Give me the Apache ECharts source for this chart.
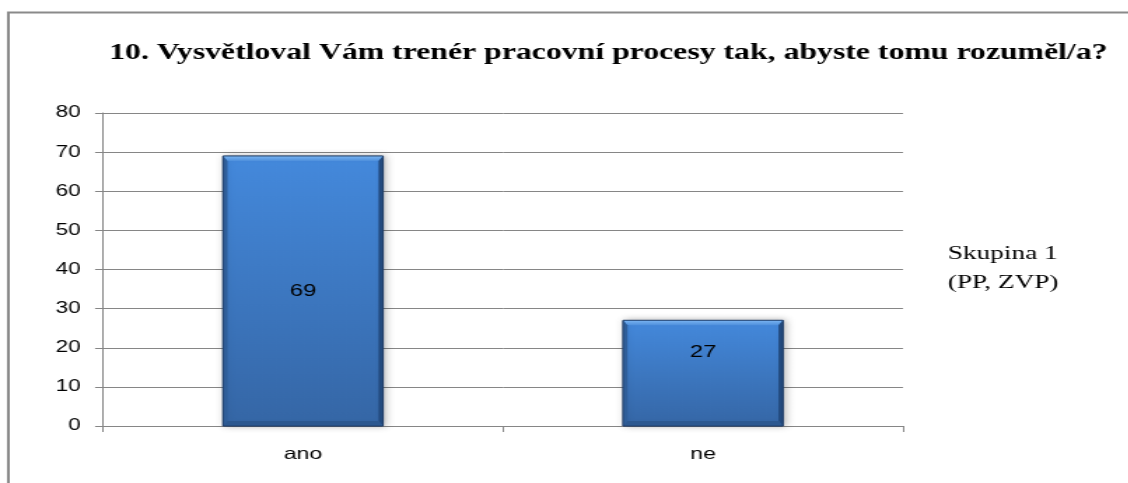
<!DOCTYPE html>
<html>
<head>
<meta charset="utf-8">
<script src="https://cdn.jsdelivr.net/npm/echarts@6/dist/echarts.min.js"></script>
<style>
  html, body { margin: 0; padding: 0; background: #fff; overflow: hidden; }
  #wrap { width: 1128px; height: 483px; overflow: hidden; }
  /* the chart is laid out narrow and widened horizontally */
  #chart { width: 806px; height: 483px; transform: scaleX(1.4); transform-origin: 0 0; }
</style>
</head>
<body>
<div id="wrap"><div id="chart"></div></div>
<script>
const titleText = '10. Vysvětloval Vám trenér pracovní procesy tak, abyste tomu rozuměl/a?';
const seriesName = 'Skupina 1\n(PP, ZVP)';
const categories = ['ano', 'ne'];
const values = [69, 27];
const yMin = 0;
const yMax = 80;
const yStep = 10;

// where each value label sits inside its bar (fraction of bar height from the top)
const labelAnchor = [0.5, 0.3];

const AXIS_GREY = '#868686';

function renderBar(params, api) {
  const idx = api.value(0);
  const v = api.value(1);
  const top = api.coord([idx, v]);
  const base = api.coord([idx, 0]);
  const w = api.size([1, 0])[0] * 0.4;
  const x0 = top[0] - w / 2, x1 = top[0] + w / 2;
  const y0 = top[1], y1 = base[1];
  const bx = 3.2, by = 5;
  const face = new echarts.graphic.LinearGradient(0, 0, 0, 1, [
    { offset: 0, color: '#4489dc' },
    { offset: 1, color: '#3566a5' }
  ]);
  const topFace = new echarts.graphic.LinearGradient(0, 0, 0, 1, [
    { offset: 0, color: '#7ab5f2' },
    { offset: 1, color: '#4e8fdc' }
  ]);
  return {
    type: 'group',
    children: [
      { type: 'rect', shape: { x: x0, y: y0, width: w, height: y1 - y0 },
        style: { fill: face, stroke: '#1e3b64', lineWidth: 0.8,
                 shadowBlur: 6, shadowColor: 'rgba(0,0,0,0.28)', shadowOffsetX: 1.5, shadowOffsetY: 0 } },
      { type: 'polygon', shape: { points: [[x0, y0], [x1, y0], [x1 - bx, y0 + by], [x0 + bx, y0 + by]] },
        style: { fill: topFace } },
      { type: 'polygon', shape: { points: [[x0, y0], [x0 + bx, y0 + by], [x0 + bx, y1 - by], [x0, y1]] },
        style: { fill: '#2f5e99' } },
      { type: 'polygon', shape: { points: [[x1, y0], [x1 - bx, y0 + by], [x1 - bx, y1 - by], [x1, y1]] },
        style: { fill: '#234a7e' } },
      { type: 'polygon', shape: { points: [[x0, y1], [x0 + bx, y1 - by], [x1 - bx, y1 - by], [x1, y1]] },
        style: { fill: '#2c5890' } },
      { type: 'rect', shape: { x: x0, y: y0, width: w, height: y1 - y0 },
        style: { fill: 'none', stroke: '#1e3b64', lineWidth: 0.8 } },
      { type: 'text', x: top[0], y: y0 + (y1 - y0) * labelAnchor[idx],
        style: { text: String(v), fill: '#000', fontFamily: 'Liberation Sans', fontSize: 17,
                 align: 'center', verticalAlign: 'middle' } }
    ]
  };
}

const chart = echarts.init(document.getElementById('chart'), null, { renderer: 'canvas' });
chart.setOption({
  animation: false,
  backgroundColor: '#fff',
  title: {
    text: titleText,
    left: 78,
    top: 42,
    padding: 0,
    textStyle: { fontFamily: 'Liberation Serif', fontWeight: 'bold', fontSize: 22.7, color: '#000' }
  },
  legend: {
    data: [seriesName],
    icon: 'none',
    itemWidth: 0,
    left: 672,
    top: 239,
    padding: 0,
    selectedMode: false,
    textStyle: { fontFamily: 'Liberation Serif', fontSize: 19.5, lineHeight: 29, color: '#000' }
  },
  graphic: [{
    type: 'rect',
    silent: true,
    shape: { x: 6, y: 12.5, width: 2000, height: 2000 },
    style: { fill: 'none', stroke: '#8a8a8a', lineWidth: 2 }
  }],
  grid: { left: 73.6, right: 161, top: 113, bottom: 57 },
  xAxis: {
    type: 'category',
    data: categories,
    axisLine: { show: true, lineStyle: { color: AXIS_GREY, width: 1 } },
    axisTick: { show: true, length: 6, alignWithLabel: false, lineStyle: { color: AXIS_GREY } },
    axisLabel: { margin: 20, fontFamily: 'Liberation Sans', fontSize: 16.5, color: '#000' },
    splitLine: { show: false }
  },
  yAxis: {
    type: 'value',
    min: yMin,
    max: yMax,
    interval: yStep,
    axisLine: { show: true, lineStyle: { color: AXIS_GREY, width: 1 } },
    axisTick: { show: true, length: 5.7, lineStyle: { color: AXIS_GREY } },
    axisLabel: { margin: 16, fontFamily: 'Liberation Sans', fontSize: 16, color: '#000' },
    splitLine: { show: true, lineStyle: { color: AXIS_GREY, width: 1 } }
  },
  series: [{
    type: 'custom',
    name: seriesName,
    renderItem: renderBar,
    encode: { x: 0, y: 1 },
    data: values.map((v, i) => [i, v])
  }]
});
</script>
</body>
</html>
